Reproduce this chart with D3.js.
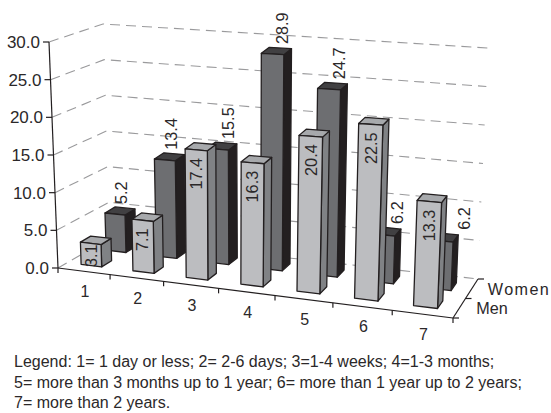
<!DOCTYPE html>
<html><head><meta charset="utf-8">
<style>html,body{margin:0;padding:0;background:#fff}svg{display:block}text{font-family:"Liberation Sans",Arial,sans-serif;fill:#2b2829}</style>
<script src="https://cdnjs.cloudflare.com/ajax/libs/d3/7.8.5/d3.min.js"></script>
</head><body>
<script>
const categories = ["1","2","3","4","5","6","7"];
const men = [3.1,7.1,17.4,16.3,20.4,22.5,13.3];
const women = [5.2,13.4,15.5,28.9,24.7,6.2,6.2];
const valueTicks = [0,5,10,15,20,25,30];
const seriesNames = ["Men","Women"];
const legendLines = ["Legend: 1= 1 day or less; 2= 2-6 days; 3=1-4 weeks; 4=1-3 months;",
 "5= more than 3 months up to 1 year; 6= more than 1 year up to 2 years;",
 "7= more than 2 years."];

const W=551,H=413;
const svg=d3.select("body").append("svg").attr("width",W).attr("height",H);

const xS=d3.scaleLinear().domain([0,7]).range([0,1]);
const warp=t=>t*(0.91+0.09*t);
const vS=d3.scaleLinear().domain([0,30]).range([0,1]);
const lerp=(a,b,t)=>a+(b-a)*t;
const wallC={fl0:[58,268],fr0:[453,318],bl0:[110,238],br0:[478,279],
         fl1:[49,42],fr1:[463,72],bl1:[103,24],br1:[488,48]};
const barC={...wallC,fl1:[51,55],fr1:[463,76]};
function project(C,x,v,z){
  const t=warp(xS(x)),h=vS(v);
  const f=k=>{
    const b0=lerp(lerp(C.fl0[k],C.fr0[k],t),lerp(C.bl0[k],C.br0[k],t),z);
    const b1=lerp(lerp(C.fl1[k],C.fr1[k],t),lerp(C.bl1[k],C.br1[k],t),z);
    return lerp(b0,b1,h);
  };
  return [f(0),f(1)];
}
const P=(x,v,z)=>project(wallC,x,v,z);
const B=(x,v,z)=>project(barC,x,v,z);
const line=d3.line();

const grid=svg.append("g");
valueTicks.forEach(v=>{
  grid.append("path").attr("d",line([P(0,v,0),P(0,v,1),P(7,v,1)]))
   .attr("fill","none").attr("stroke","#9a9a9c").attr("stroke-width",1.1).attr("stroke-dasharray","10 6");
});

const barHalf=0.2;
const rows=[
 {vals:women,c:.49,z0:.65,z1:.85,front:"#6d6e71",side:"#231f20",top:"#414042",stroke:"#231f20"},
 {vals:men,c:.47,z0:.18,z1:.38,front:"#bcbdc0",side:"#808285",top:"#a7a9ac",stroke:"#231f20"}];
rows.forEach(r=>{
  const g=svg.append("g");
  r.vals.forEach((val,i)=>{
    const x0=i+r.c-barHalf,x1=i+r.c+barHalf;
    const poly=(pts,fill)=>g.append("path").attr("d",line(pts)+"Z").attr("fill",fill)
       .attr("stroke",r.stroke).attr("stroke-width",1.3).attr("stroke-linejoin","round");
    poly([B(x1,0,r.z0),B(x1,0,r.z1),B(x1,val,r.z1),B(x1,val,r.z0)],r.side);
    poly([B(x0,val,r.z0),B(x1,val,r.z0),B(x1,val,r.z1),B(x0,val,r.z1)],r.top);
    poly([B(x0,0,r.z0),B(x1,0,r.z0),B(x1,val,r.z0),B(x0,val,r.z0)],r.front);
  });
});

const labelSize=16.3;
const rot=(sel,x,y)=>sel.attr("transform",`translate(${x},${y}) rotate(-90)`);
men.forEach((val,i)=>{
  const p=B(i+.47,val,.18), base=B(i+.47,0,.18);
  const room=base[1]-p[1];
  const textLen=val.toFixed(1).length*labelSize*.49;
  const pad=Math.min(8,Math.max(1,room-textLen));
  svg.append("text").text(val.toFixed(1)).attr("font-size",labelSize).attr("text-anchor","end").attr("dy","0.36em")
    .call(rot,p[0],p[1]+pad);
});
// the source's outer labels drift rightward along the category axis
const womenLabelDrift=d3.scaleLinear().domain([0,1,2,4,5,6]).range([-4,-4,1,2,7,17]);
women.forEach((val,i)=>{
  const p=B(i+.5,val,.85);
  svg.append("text").text(val.toFixed(1)).attr("font-size",labelSize).attr("text-anchor","start").attr("dy","0.36em")
    .call(rot,p[0]+womenLabelDrift(i),p[1]-4);
});

const ax=svg.append("g").attr("stroke","#231f20").attr("stroke-width",1.2).attr("fill","none");
ax.append("path").attr("d",line([P(0,0,0),P(0,30,0)]));
ax.append("path").attr("d",line([P(0,0,0),P(7,0,0)]));
ax.append("path").attr("d",line([P(7,0,0),P(7,0,1)]));
valueTicks.forEach(v=>{
  const p=P(0,v,0);
  ax.append("path").attr("d",line([[p[0]-6,p[1]],p]));
  svg.append("text").text(v.toFixed(1)).attr("x",p[0]-9).attr("y",p[1]).attr("dy","0.36em")
    .attr("text-anchor","end").attr("font-size",17);
});
d3.range(0,8).forEach(i=>{
  const p=P(i,0,0);
  ax.append("path").attr("d",line([p,[p[0],p[1]+5]]));
});
categories.forEach((c,i)=>{
  const p=P(i+.5,0,0);
  svg.append("text").text(c).attr("x",p[0]+1).attr("y",p[1]+20).attr("dy","0.36em")
    .attr("text-anchor","middle").attr("font-size",16);
});
[0,.5,1].forEach(z=>{
  const p=P(7,0,z);
  ax.append("path").attr("d",line([p,[p[0]+6,p[1]]]));
});
seriesNames.forEach((n,i)=>{
  const p=P(7,0,(i+.5)/2);
  svg.append("text").text(n).attr("x",p[0]+ (i?16:17)).attr("y",p[1]).attr("dy","0.36em")
    .attr("font-size",16.2).attr("letter-spacing",i?1.4:0);
});

const legendY=d3.scaleLinear().domain([0,2]).range([367,408]);
legendLines.forEach((l,i)=>{
  svg.append("text").text(l).attr("x",14).attr("y",legendY(i)).attr("font-size",16);
});
</script>
</body></html>
